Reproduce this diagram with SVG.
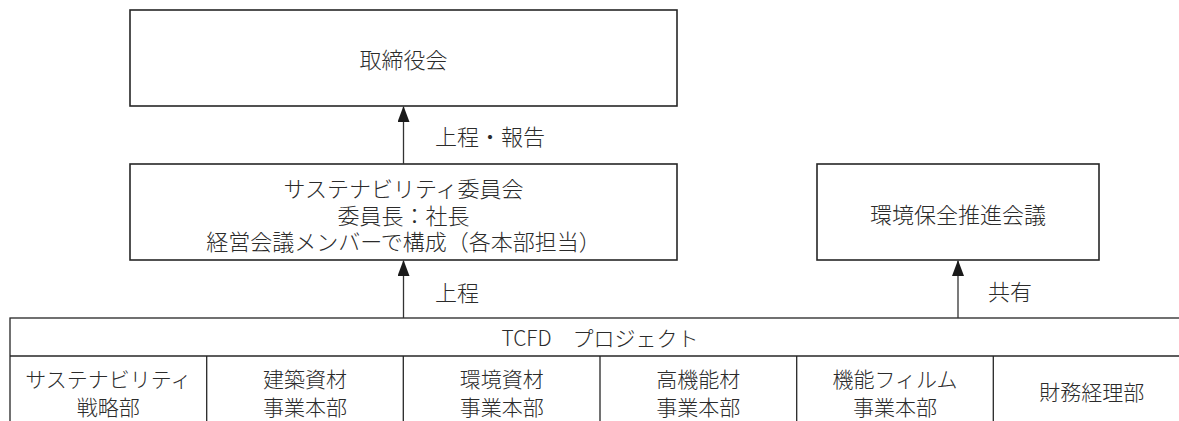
<svg xmlns="http://www.w3.org/2000/svg" width="1179" height="421" viewBox="0 0 1179 421">
<defs>
<style>
text{font-family:"Noto Sans CJK JP","Noto Sans",sans-serif;font-weight:300;fill:#2b2b2b;text-anchor:middle;dominant-baseline:central}
.box{fill:#fff;stroke:#262626;stroke-width:1.6}
.cell{fill:none;stroke:#262626;stroke-width:1.3}
.conn{stroke:#333;stroke-width:1.3;fill:none;marker-end:url(#arr)}
.t22{font-size:22px}
.t21{font-size:21px}
.lbl{text-anchor:start}
</style>
<marker id="arr" viewBox="0 0 16 12" refX="15" refY="6" markerWidth="16" markerHeight="12" markerUnits="userSpaceOnUse" orient="auto">
<path d="M0,0 L16,6 L0,12 Z" fill="#1a1a1a"/>
</marker>
</defs>
<rect width="1179" height="421" fill="#fff"/>
<g id="board">
<rect class="box" x="130" y="10" width="547" height="96"/>
<text class="t22" x="403.5" y="58">取締役会</text>
</g>
<g id="sustainability-committee">
<rect class="box" x="130" y="164" width="547" height="96"/>
<text class="t22" x="403.5" y="186.5">サステナビリティ委員会</text>
<text class="t22" x="403.5" y="213.5">委員長：社長</text>
<text class="t22" x="403.5" y="240">経営会議メンバーで構成（各本部担当）</text>
</g>
<g id="env-council">
<rect class="box" x="817" y="164" width="282" height="96"/>
<text class="t22" x="958" y="213">環境保全推進会議</text>
</g>
<g id="tcfd-project">
<rect class="cell" x="10" y="318" width="1190" height="120"/>
<line class="cell" x1="10" y1="356" x2="1190" y2="356"/>
<text class="t21" x="600" y="337">TCFD　プロジェクト</text>
<line class="cell" x1="206.7" y1="356" x2="206.7" y2="430"/>
<line class="cell" x1="403.3" y1="356" x2="403.3" y2="430"/>
<line class="cell" x1="600" y1="356" x2="600" y2="430"/>
<line class="cell" x1="796.7" y1="356" x2="796.7" y2="430"/>
<line class="cell" x1="993.3" y1="356" x2="993.3" y2="430"/>
</g>
<g id="dept-sustainability">
<text class="t21" x="108.3" y="378">サステナビリティ</text>
<text class="t21" x="108.3" y="406">戦略部</text>
</g>
<g id="dept-building">
<text class="t21" x="305" y="378">建築資材</text>
<text class="t21" x="305" y="406">事業本部</text>
</g>
<g id="dept-environment">
<text class="t21" x="501.7" y="378">環境資材</text>
<text class="t21" x="501.7" y="406">事業本部</text>
</g>
<g id="dept-highfunction">
<text class="t21" x="698.3" y="378">高機能材</text>
<text class="t21" x="698.3" y="406">事業本部</text>
</g>
<g id="dept-film">
<text class="t21" x="895" y="378">機能フィルム</text>
<text class="t21" x="895" y="406">事業本部</text>
</g>
<g id="dept-finance">
<text class="t21" x="1091.7" y="391">財務経理部</text>
</g>
<g id="connectors">
<line class="conn" x1="403.5" y1="164" x2="403.5" y2="107"/>
<text class="t22 lbl" x="435" y="135">上程・報告</text>
<line class="conn" x1="403.5" y1="318" x2="403.5" y2="261"/>
<text class="t22 lbl" x="435" y="291">上程</text>
<line class="conn" x1="958" y1="318" x2="958" y2="261"/>
<text class="t22 lbl" x="988" y="290">共有</text>
</g>
</svg>
